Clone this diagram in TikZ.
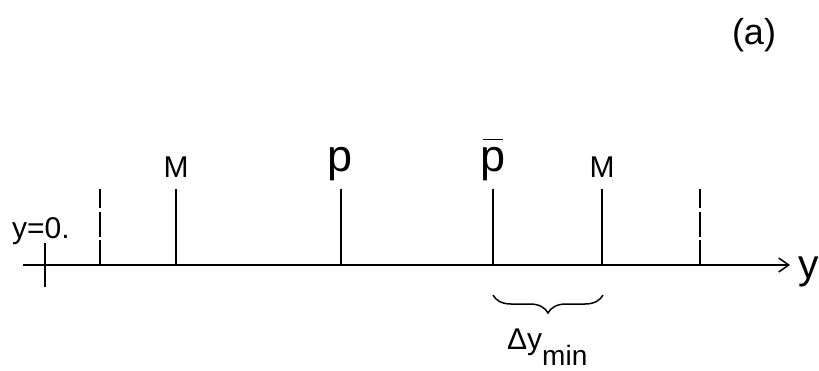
\documentclass[tikz,border=0pt]{standalone}
\usepackage{fontspec}
\setmainfont{Liberation Sans}
\usepackage{tikz}
\usetikzlibrary{arrows.meta,decorations.pathreplacing}

\tikzset{
  tick/.style={line width=1.5pt},
  dashtick/.style={line width=1.5pt, dash pattern=on 25pt off 3.5pt},
  lab/.style={inner sep=0pt, anchor=base, font=\fontsize{30}{34}\selectfont}
}

\begin{document}
\begin{tikzpicture}[x=1pt, y=-1pt]
            \useasboundingbox (0,0) rectangle (819,370);

            \coordinate (O) at (45,265);
            \coordinate (L) at (23,265);
            \coordinate (R) at (790,265);
            \coordinate (D1) at (100,265);
            \coordinate (M1) at (176,265);
            \coordinate (P) at (341,265);
            \coordinate (PB) at (493,265);
            \coordinate (M2) at (602,265);
            \coordinate (D2) at (700,265);

            \draw[line width=1.5pt, -{Straight Barb[length=10pt,width=14pt]}] (L) -- (R);
            \node[lab, font=\fontsize{41}{46}\selectfont, anchor=base west] (ylab) at (798,278) {y};

            \draw[tick] (45,243) -- (45,287);
            \node[lab, anchor=base west] (zero) at (12,238) {y=0.};

            \draw[dashtick] (D1) -- ++(0,-76);
            \draw[dashtick] (D2) -- ++(0,-76);
            \draw[tick] (M1) -- ++(0,-76);
            \draw[tick] (P) -- ++(0,-76);
            \draw[tick] (PB) -- ++(0,-76);
            \draw[tick] (M2) -- ++(0,-76);

            \node[lab] (Ml) at (176,177) {M};
            \node[lab] (Mr) at (602,177) {M};
            \node[lab, font=\fontsize{45}{50}\selectfont] (p) at (340,171) {p};
            \node[lab, font=\fontsize{45}{50}\selectfont] (pbar) at (493,171)
              {\rlap{\hspace{0.05em}\rule[0.68em]{0.46em}{0.04em}}p};

            \draw[line width=1.5pt, decorate, decoration={brace, mirror, amplitude=18pt}]
              (493,295) -- (603,295);
            \node[lab, anchor=base west] (dy) at (507,349)
              {Δy\raisebox{-16pt}{\fontsize{28}{32}\selectfont min}};

            \node[lab, font=\fontsize{36}{40}\selectfont] (a) at (754,44) {(a)};
        \end{tikzpicture}
\end{document}
